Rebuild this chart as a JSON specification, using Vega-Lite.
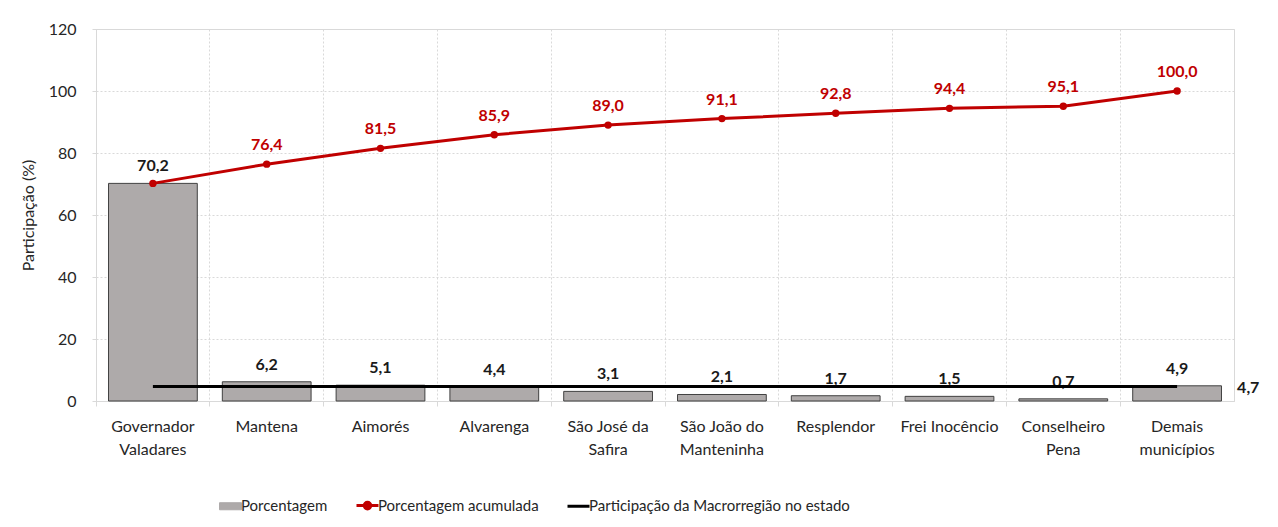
{
  "$schema": "https://vega.github.io/schema/vega-lite/v6.json",
  "width": 1138,
  "height": 372,
  "autosize": "none",
  "padding": {"left": 96, "top": 29, "right": 44, "bottom": 126},
  "background": "white",
  "title": {
    "text": "até a 27ª semana epidemiológica na Macrorregião de Saúde Leste",
    "anchor": "start",
    "frame": "group",
    "font": "DejaVu Serif",
    "fontWeight": "bold",
    "fontSize": 24,
    "color": "#000000",
    "dx": -98,
    "dy": -32,
    "offset": 0
  },
  "config": {
    "locale": {"number": {"decimal": ",", "thousands": ".", "grouping": [3], "currency": ["R$", ""]}},
    "view": {"stroke": "#d9d9d9"},
    "font": "Lato",
    "style": {"guide-label": {"lineBreak": "\n"}}
  },
  "data": {
    "values": [
      {"municipio": "Governador\nValadares", "serie": "Porcentagem", "valor": 70.2},
      {"municipio": "Mantena", "serie": "Porcentagem", "valor": 6.2},
      {"municipio": "Aimorés", "serie": "Porcentagem", "valor": 5.1},
      {"municipio": "Alvarenga", "serie": "Porcentagem", "valor": 4.4},
      {"municipio": "São José da\nSafira", "serie": "Porcentagem", "valor": 3.1},
      {"municipio": "São João do\nManteninha", "serie": "Porcentagem", "valor": 2.1},
      {"municipio": "Resplendor", "serie": "Porcentagem", "valor": 1.7},
      {"municipio": "Frei Inocêncio", "serie": "Porcentagem", "valor": 1.5},
      {"municipio": "Conselheiro\nPena", "serie": "Porcentagem", "valor": 0.7},
      {"municipio": "Demais\nmunicípios", "serie": "Porcentagem", "valor": 4.9},
      {"municipio": "Governador\nValadares", "serie": "Porcentagem acumulada", "valor": 70.2},
      {"municipio": "Mantena", "serie": "Porcentagem acumulada", "valor": 76.4},
      {"municipio": "Aimorés", "serie": "Porcentagem acumulada", "valor": 81.5},
      {"municipio": "Alvarenga", "serie": "Porcentagem acumulada", "valor": 85.9},
      {"municipio": "São José da\nSafira", "serie": "Porcentagem acumulada", "valor": 89.0},
      {"municipio": "São João do\nManteninha", "serie": "Porcentagem acumulada", "valor": 91.1},
      {"municipio": "Resplendor", "serie": "Porcentagem acumulada", "valor": 92.8},
      {"municipio": "Frei Inocêncio", "serie": "Porcentagem acumulada", "valor": 94.4},
      {"municipio": "Conselheiro\nPena", "serie": "Porcentagem acumulada", "valor": 95.1},
      {"municipio": "Demais\nmunicípios", "serie": "Porcentagem acumulada", "valor": 100.0},
      {"municipio": "Governador\nValadares", "serie": "Participação da Macrorregião no estado", "valor": 4.7},
      {"municipio": "Demais\nmunicípios", "serie": "Participação da Macrorregião no estado", "valor": 4.7}
    ]
  },
  "encoding": {
    "x": {
      "field": "municipio",
      "type": "nominal",
      "sort": ["Governador\nValadares", "Mantena", "Aimorés", "Alvarenga", "São José da\nSafira", "São João do\nManteninha", "Resplendor", "Frei Inocêncio", "Conselheiro\nPena", "Demais\nmunicípios"],
      "scale": {"paddingInner": 0, "paddingOuter": 0},
      "axis": {
        "title": null,
        "labelAngle": 0,
        "labelFont": "Lato",
        "labelFontSize": 16,
        "labelColor": "#262626",
        "labelLineHeight": 23,
        "labelPadding": 12,
        "bandPosition": 0,
        "tickSize": 5,
        "tickColor": "#d9d9d9",
        "domainColor": "#d9d9d9",
        "grid": true,
        "gridColor": "#d9d9d9",
        "gridDash": [2, 2]
      }
    },
    "y": {
      "field": "valor",
      "type": "quantitative",
      "scale": {"domain": [0, 120], "nice": false},
      "axis": {
        "title": "Participação (%)",
        "titleFont": "Lato",
        "titleFontSize": 16,
        "titleFontWeight": "normal",
        "titleColor": "#262626",
        "titlePadding": 12,
        "values": [0, 20, 40, 60, 80, 100, 120],
        "labelFont": "Lato",
        "labelFontSize": 16,
        "labelColor": "#262626",
        "labelPadding": 16,
        "tickSize": 4,
        "tickColor": "#d9d9d9",
        "domainColor": "#d9d9d9",
        "gridColor": "#d9d9d9",
        "gridDash": [2, 2]
      }
    },
    "color": {
      "field": "serie",
      "type": "nominal",
      "scale": {
        "domain": ["Porcentagem", "Porcentagem acumulada", "Participação da Macrorregião no estado"],
        "range": ["#AEAAAA", "#C00000", "#000000"]
      },
      "legend": {
        "title": null,
        "orient": "none",
        "legendX": 127,
        "legendY": 469,
        "direction": "horizontal",
        "labelFont": "Lato",
        "labelFontSize": 15,
        "labelColor": "#262626",
        "labelLimit": 400,
        "labelOffset": 3,
        "columnPadding": 22,
        "symbolSize": 484,
        "encode": {
          "symbols": {
            "update": {
              "shape": {"signal": "datum.value === 'Porcentagem' ? 'M-1,-0.32H1V0.32H-1Z' : datum.value === 'Porcentagem acumulada' ? 'M-1,0H1M-0.3,0A0.3,0.3,0,1,0,0.3,0A0.3,0.3,0,1,0,-0.3,0Z' : 'M-1,0H1'"},
              "fill": {"signal": "datum.value === 'Porcentagem' ? '#AEAAAA' : datum.value === 'Porcentagem acumulada' ? '#C00000' : 'transparent'"},
              "stroke": {"signal": "datum.value === 'Porcentagem' ? '#404040' : datum.value === 'Porcentagem acumulada' ? '#C00000' : '#000000'"},
              "strokeWidth": {"signal": "datum.value === 'Porcentagem' ? 1 : 3"},
              "opacity": {"value": 1}
            }
          }
        }
      }
    }
  },
  "layer": [
    {
      "transform": [{"filter": "datum.serie === 'Porcentagem'"}],
      "mark": {"type": "bar", "width": {"band": 0.78}, "stroke": "#404040", "strokeWidth": 1}
    },
    {
      "transform": [{"filter": "datum.serie === 'Porcentagem'"}],
      "mark": {"type": "text", "dy": -17, "fontWeight": "bold", "fontSize": 16, "font": "Lato"},
      "encoding": {
        "text": {"field": "valor", "type": "quantitative", "format": ".1f"},
        "color": {"value": "#1a1a1a"}
      }
    },
    {
      "transform": [{"filter": "datum.serie === 'Participação da Macrorregião no estado'"}],
      "mark": {"type": "line", "strokeWidth": 3},
      "encoding": {}
    },
    {
      "transform": [{"filter": "datum.serie === 'Porcentagem acumulada'"}],
      "mark": {"type": "line", "strokeWidth": 3, "point": {"filled": true, "size": 55}},
      "encoding": {}
    },
    {
      "transform": [{"filter": "datum.serie === 'Porcentagem acumulada' && datum.valor > 71"}],
      "mark": {"type": "text", "dy": -19, "fontWeight": "bold", "fontSize": 16, "font": "Lato"},
      "encoding": {
        "text": {"field": "valor", "type": "quantitative", "format": ".1f"},
        "color": {"value": "#C00000"}
      }
    },
    {
      "transform": [{"filter": "datum.serie === 'Participação da Macrorregião no estado' && indexof(datum.municipio, 'Demais') >= 0"}],
      "mark": {"type": "text", "align": "left", "dx": 60, "dy": 2, "fontWeight": "bold", "fontSize": 16, "font": "Lato"},
      "encoding": {
        "text": {"field": "valor", "type": "quantitative", "format": ".1f"},
        "color": {"value": "#1a1a1a"}
      }
    }
  ]
}
